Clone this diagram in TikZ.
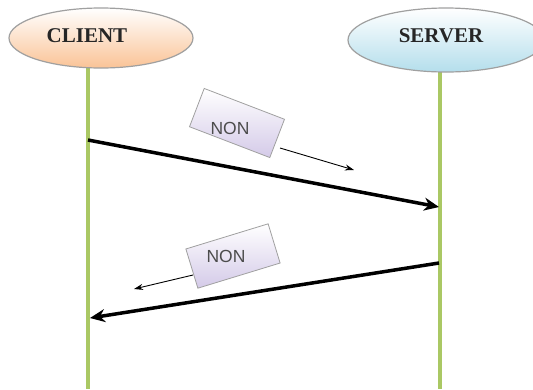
\documentclass[tikz,border=0pt]{standalone}
\usepackage{fontspec}
\setmainfont{Liberation Serif}
\setsansfont{Liberation Sans}
\usetikzlibrary{shapes.geometric,arrows.meta}
\definecolor{lifegreen}{RGB}{170,200,100}
\definecolor{peach}{RGB}{250,195,150}
\definecolor{skyblue}{RGB}{180,222,236}
\definecolor{lav}{RGB}{212,202,232}
\definecolor{edgegray}{RGB}{160,160,160}
\begin{document}
\begin{tikzpicture}[x=1pt,y=-1pt,
  actorshape/.style={ellipse, draw=edgegray, line width=1.2pt, inner sep=0pt},
  actortext/.style={font=\bfseries\fontsize{21}{21}\selectfont, text=black!85, inner sep=0pt},
  lifeline/.style={draw=lifegreen, line width=3.2pt},
  msg/.style={line width=3.5pt, -{Stealth[length=15pt,width=13pt]}},
  tagbox/.style={draw=edgegray, line width=0.8pt, top color=white, bottom color=lav, minimum width=86pt, minimum height=41pt, inner sep=0pt},
  tagtext/.style={font=\sffamily\fontsize{17.5}{17.5}\selectfont, text=black!70, inner sep=0pt},
  hint/.style={line width=0.9pt, -{Stealth[length=9pt,width=6pt]}}]

\useasboundingbox (0,0) rectangle (533,389);
\fill[white] (0,0) rectangle (533,389);

% lifeline ends
\coordinate (ctop) at (88,60);
\coordinate (cbot) at (88,389);
\coordinate (stop) at (440,65);
\coordinate (sbot) at (440,389);
\draw[lifeline] (ctop) -- (cbot);
\draw[lifeline] (stop) -- (sbot);

% actors
\node[actorshape, minimum width=184pt, minimum height=60pt, top color=white, bottom color=peach] (clientshape) at (101,38) {};
\node[actortext] (client) at (87,36) {CLIENT};
\node[actorshape, minimum width=196pt, minimum height=64pt, top color=white, bottom color=skyblue] (servershape) at (446,40) {};
\node[actortext] (server) at (441,36) {SERVER};

% messages
\coordinate (m1s) at (88,140);
\coordinate (m1e) at (439,207);
\coordinate (m2s) at (439,263);
\coordinate (m2e) at (90,318);
\draw[msg] (m1s) -- (m1e);
\draw[msg] (m2s) -- (m2e);

% NON tags
\node[tagbox, rotate=-21] (non1) at (237,123) {};
\node[tagtext] (non1t) at (230,128) {NON};
\node[tagbox, rotate=17] (non2) at (233,256) {};
\node[tagtext] (non2t) at (226,256) {NON};

\coordinate (h1s) at (280,148);
\coordinate (h1e) at (354,170);
\coordinate (h2s) at (193,275);
\coordinate (h2e) at (134,289);
\draw[hint] (h1s) -- (h1e);
\draw[hint] (h2s) -- (h2e);
\end{tikzpicture}
\end{document}
